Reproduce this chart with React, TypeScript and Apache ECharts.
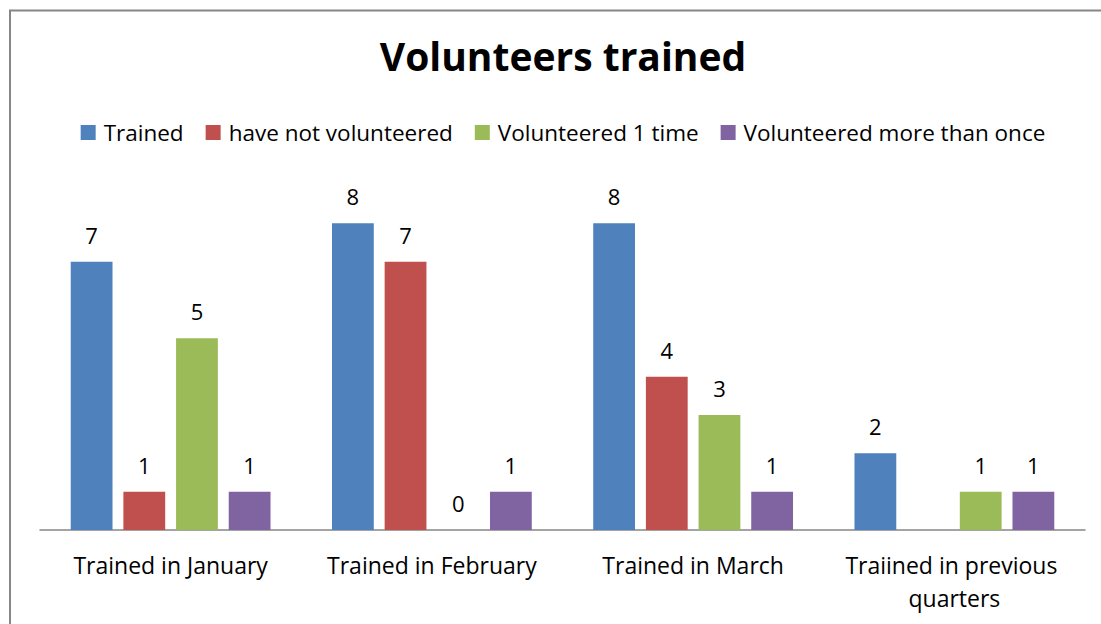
import React, { useEffect, useRef } from "react";
import * as echarts from "echarts";

const categories = ["Trained in January", "Trained in February", "Trained in March", "Traiined in previous quarters"];
const seriesNames = ["Trained", "have not volunteered", "Volunteered 1 time", "Volunteered more than once"];
const trained = [7, 8, 8, 2];
const notVolunteered = [1, 7, 4, null];
const volunteeredOnce = [5, 0, 3, 1];
const volunteeredMore = [1, 1, 1, 1];
const colors = ["#4F81BD", "#C0504D", "#9BBB59", "#8064A2"];

const FONT = "Open Sans";

export default function App() {
  const ref = useRef<HTMLDivElement>(null);
  useEffect(() => {
    document.body.style.margin = "0";
    document.body.style.overflow = "hidden";
    const chart = echarts.init(ref.current!, null, { renderer: "svg" });
    const values = [trained, notVolunteered, volunteeredOnce, volunteeredMore];
    chart.setOption({
      animation: false,
      backgroundColor: "#ffffff",
      textStyle: { fontFamily: FONT },
      title: {
        text: "Volunteers trained",
        left: "center",
        top: 31,
        textStyle: { fontFamily: FONT, fontSize: 39, fontWeight: "bold", color: "#000" },
      },
      legend: {
        top: 116,
        left: "center",
        itemWidth: 15,
        itemHeight: 15,
        itemGap: 22,
        icon: "rect",
        textStyle: { fontFamily: FONT, fontSize: 22.5, color: "#000", padding: [0, 0, 0, 3] },
        data: seriesNames,
      },
      graphic: [
        {
          type: "rect",
          shape: { x: 10, y: 10.5, width: 1300, height: 1000 },
          style: { fill: "none", stroke: "#868686", lineWidth: 2 },
          silent: true,
        },
      ],
      grid: { left: 40, right: 41, top: 185, bottom: 110, containLabel: false },
      xAxis: {
        type: "category",
        data: categories,
        axisLine: { lineStyle: { color: "#868686", width: 1.5 } },
        axisTick: { show: false },
        axisLabel: {
          fontFamily: FONT,
          fontSize: 23,
          color: "#000",
          margin: 18,
          width: 250,
          overflow: "break",
          lineHeight: 33,
          interval: 0,
        },
      },
      yAxis: {
        type: "value",
        min: 0,
        max: 9,
        interval: 1,
        show: false,
        splitLine: { show: false },
      },
      series: seriesNames.map((name, i) => ({
        name,
        type: "bar",
        data: values[i],
        barWidth: "16%",
        barGap: "26%",
        itemStyle: { color: colors[i] },
        label: {
          show: true,
          position: "top",
          distance: 16,
          fontFamily: FONT,
          fontSize: 22,
          color: "#000",
        },
      })),
    });
    return () => chart.dispose();
  }, []);
  return (
    <div style={{ width: 1101, height: 624, overflow: "hidden" }}>
      <div ref={ref} style={{ width: 1126, height: 640 }} />
    </div>
  );
}
